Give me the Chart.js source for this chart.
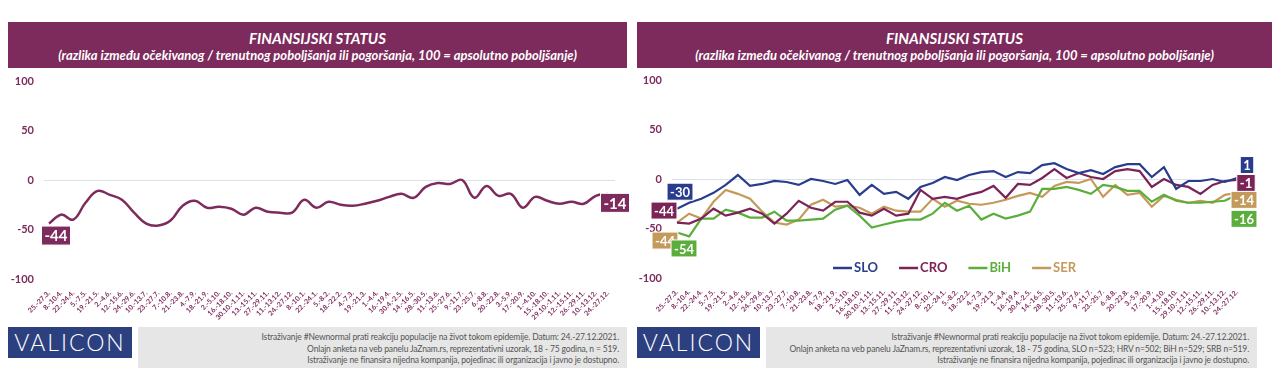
<!DOCTYPE html>
<html lang="sr">
<head>
<meta charset="UTF-8">
<title>Finansijski status</title>
<script src="https://cdn.jsdelivr.net/npm/chart.js"></script>
<style>
    body, html {
        margin: 0;
        padding: 0;
        width: 1280px;
        height: 377px;
        overflow: hidden;
        background: #fff;
        font-family: Lato, 'Open Sans', sans-serif;
    }
    .header {
        position: absolute;
        top: 22px;
        height: 46px;
        background: #7d2a5c;
        color: #fff;
        text-align: center;
        font-style: italic;
        font-weight: bold;
    }
    .header .t { font-size: 15px; margin-top: 7px; line-height: 18px; }
    .header .s { font-size: 13px; line-height: 16px; }
    .chartbox { position: absolute; top: 70px; height: 252px; }
    .logo {
        position: absolute;
        top: 327px;
        height: 31px;
        background: #2c3f7e;
        color: #fff;
        font-size: 23px;
        font-weight: 300;
        letter-spacing: 2px;
        text-align: center;
        line-height: 31px;
    }
    .note {
        position: absolute;
        top: 327px;
        height: 41px;
        background: #e6e6e6;
        color: #555;
        font-size: 8.5px;
        line-height: 11.5px;
        letter-spacing: -0.15px;
        white-space: nowrap;
        text-align: right;
        padding: 5px 8px 0 0;
        box-sizing: border-box;
    }
</style>
</head>
<body>
    <div class="header" style="left:8px; width:619px;">
        <div class="t">FINANSIJSKI STATUS</div>
        <div class="s">(razlika između očekivanog / trenutnog poboljšanja ili pogoršanja, 100 = apsolutno poboljšanje)</div>
    </div>
    <div class="header" style="left:637px; width:635px;">
        <div class="t">FINANSIJSKI STATUS</div>
        <div class="s">(razlika između očekivanog / trenutnog poboljšanja ili pogoršanja, 100 = apsolutno poboljšanje)</div>
    </div>

    <div class="chartbox" style="left:0; width:632px;"><canvas id="left"></canvas></div>
    <div class="chartbox" style="left:632px; width:648px;"><canvas id="right"></canvas></div>

    <div class="logo" style="left:8px; width:124px;">VALICON</div>
    <div class="note" style="left:138px; width:489px;">
        Istraživanje #Newnormal prati reakciju populacije na život tokom epidemije. Datum: 24.-27.12.2021.<br>
        Onlajn anketa na veb panelu JaZnam.rs, reprezentativni uzorak, 18 - 75 godina, n = 519.<br>
        Istraživanje ne finansira nijedna kompanija, pojedinac ili organizacija i javno je dostupno.
    </div>
    <div class="logo" style="left:637px; width:123px;">VALICON</div>
    <div class="note" style="left:766px; width:491px;">
        Istraživanje #Newnormal prati reakciju populacije na život tokom epidemije. Datum: 24.-27.12.2021.<br>
        Onlajn anketa na veb panelu JaZnam.rs, reprezentativni uzorak, 18 - 75 godina, SLO n=523; HRV n=502; BiH n=529; SRB n=519.<br>
        Istraživanje ne finansira nijedna kompanija, pojedinac ili organizacija i javno je dostupno.
    </div>

<script>
// survey waves, 2020-2021
const periods = ['25.-27.3.', '8.-10.4.', '22.-24.4.', '5.-7.5.', '19.-21.5.', '2.-4.6.', '12.-15.6.', '24.-29.6.',
    '10.-13.7.', '23.-27.7.', '7.-10.8.', '21.-23.8.', '4.-7.9.', '18.-21.9.', '2.-5.10.', '16.-18.10.',
    '30.10.-1.11.', '13.-15.11.', '27.-29.11.', '11.-13.12.', '24.-27.12.', '8.-10.1.', '22.-24.1.', '5.-8.2.',
    '18.-22.2.', '4.-7.3.', '19.-21.3.', '1.-4.4.', '16.-19.4.', '30.4.-2.5.', '14.-16.5.', '28.-30.5.',
    '11.-13.6.', '25.-27.6.', '9.-11.7.', '23.-25.7.', '6.-8.8.', '20.-22.8.', '3.-5.9.', '17.-20.9.',
    '1.-4.10.', '15.-18.10.', '29.10.-1.11.', '12.-15.11.', '26.-29.11.', '10.-13.12.', '24.-27.12.'];

const srb = [-44, -35, -40, -23, -11, -15, -20, -33, -44, -46, -41, -26, -21, -28, -27, -29, -35, -28, -32, -33,
    -33, -20, -28, -22, -25, -26, -24, -21, -17, -14, -18, -7, -3, -4, 0, -18, -6, -16, -14, -28,
    -17, -21, -24, -22, -24, -16, -14];
const slo = [-30, -24, -20, -14, -6, 4, -7, -5, -2, -3, -6, 0, -2, -5, -1, -16, -6, -15, -13, -20,
    -8, -4, 2, -1, 4, 7, 8, 2, 7, 6, 14, 16, 10, 6, 9, 5, 12, 15, 15, 2,
    12, -10, -2, -2, 0, -3, 1];
const cro = [-44, -45, -40, -30, -37, -34, -30, -35, -45, -35, -22, -29, -32, -23, -23, -34, -37, -30, -37, -35,
    -11, -20, -18, -20, -16, -13, -7, -19, -5, -6, 1, 10, 1, 6, 2, 0, 8, 10, 8, -8,
    0, -6, -8, -15, -6, -2, -1];
const bih = [-54, -58, -40, -40, -31, -34, -39, -39, -33, -42, -42, -41, -40, -31, -27, -37, -49, -46, -43, -41,
    -41, -35, -24, -32, -27, -41, -35, -40, -37, -33, -10, -10, -8, -11, -15, -6, -8, -12, -12, -23,
    -16, -22, -24, -24, -23, -22, -16];

const yTicks = [-100, -50, 0, 50, 100];

const MAROON = '#7d2a5c';
const colors = { SLO: '#2a3c8c', CRO: '#7b2257', BiH: '#5cae3c', SER: '#c49a5a' };

// value boxes at line ends: dataset, point, text, offset of box centre from the point
const leftTags = [
    { ds: 0, i: 0, text: '-44', dx: 7, dy: 12, size: 15 },
    { ds: 0, i: 46, text: '-14', dx: 7, dy: 9, size: 15 }
];
const rightTags = [
    { ds: 0, i: 0, text: '-30', dx: 3, dy: -17, size: 13 },
    { ds: 1, i: 0, text: '-44', dx: -13, dy: -12, size: 13 },
    { ds: 3, i: 0, text: '-44', dx: -12, dy: 18, size: 13 },
    { ds: 2, i: 0, text: '-54', dx: 7, dy: 16, size: 13 },
    { ds: 0, i: 46, text: '1', dx: 10, dy: -13, size: 13 },
    { ds: 1, i: 46, text: '-1', dx: 9, dy: 3, size: 13 },
    { ds: 3, i: 46, text: '-14', dx: 7, dy: 7, size: 13 },
    { ds: 2, i: 46, text: '-16', dx: 7, dy: 24, size: 13 }
];

// zero line, slightly wider than the plot
const zeroLine = {
    id: 'zeroLine',
    beforeDatasetsDraw(chart) {
        const { ctx, chartArea, scales } = chart;
        const y = Math.round(scales.y.getPixelForValue(0)) + 0.5;
        ctx.save();
        ctx.strokeStyle = '#d6e1ea';
        ctx.lineWidth = 1;
        ctx.beginPath();
        ctx.moveTo(chartArea.left - 5, y);
        ctx.lineTo(chartArea.right + 7, y);
        ctx.stroke();
        ctx.restore();
    }
};

const endTags = {
    id: 'endTags',
    afterDatasetsDraw(chart, args, opts) {
        const ctx = chart.ctx;
        ctx.save();
        opts.tags.forEach(t => {
            const ds = chart.data.datasets[t.ds];
            const pt = chart.getDatasetMeta(t.ds).data[t.i];
            ctx.font = 'bold ' + t.size + 'px Lato, sans-serif';
            const w = ctx.measureText(t.text).width + 6;
            const h = t.size + 4;
            const cx = pt.x + t.dx, cy = pt.y + t.dy;
            ctx.fillStyle = ds.borderColor;
            ctx.fillRect(cx - w / 2, cy - h / 2, w, h);
            ctx.strokeStyle = '#ffffff';
            ctx.lineWidth = 1;
            ctx.strokeRect(cx - w / 2, cy - h / 2, w, h);
            ctx.fillStyle = '#fff';
            ctx.textAlign = 'center';
            ctx.textBaseline = 'middle';
            ctx.fillText(t.text, cx, cy + 1);
        });
        ctx.restore();
    }
};

const legendInside = {
    id: 'legendInside',
    afterDraw(chart) {
        if (!chart.options.plugins.legendInside) return;
        const ctx = chart.ctx;
        const y = chart.chartArea.bottom - 10;
        let x = chart.chartArea.left + 156;
        ctx.save();
        ctx.font = 'bold 13px Lato, sans-serif';
        ctx.textBaseline = 'middle';
        chart.data.datasets.forEach(ds => {
            ctx.strokeStyle = ds.borderColor;
            ctx.lineWidth = 2.5;
            ctx.beginPath();
            ctx.moveTo(x, y);
            ctx.lineTo(x + 19, y);
            ctx.stroke();
            ctx.fillStyle = ds.borderColor;
            ctx.fillText(ds.label, x + 21, y);
            x += 21 + ctx.measureText(ds.label).width + 21;
        });
        ctx.restore();
    }
};

function makeOptions(yWidth, xHeight, padding, tags, legend) {
    return {
        responsive: true,
        maintainAspectRatio: false,
        animation: false,
        layout: { padding: padding },
        elements: { point: { radius: 0 } },
        plugins: {
            legend: { display: false },
            tooltip: { enabled: false },
            endTags: { tags: tags },
            legendInside: legend
        },
        scales: {
            x: {
                grid: { display: false },
                border: { display: false },
                afterFit: s => { s.height = xHeight; },
                ticks: {
                    autoSkip: false,
                    maxRotation: 45,
                    minRotation: 45,
                    padding: 2,
                    color: MAROON,
                    font: { size: 7, weight: 'bold', family: 'Lato, sans-serif' }
                }
            },
            y: {
                min: -100,
                max: 100,
                grid: { display: false, drawTicks: false },
                border: { display: false },
                afterFit: s => {
                    s.width = yWidth;
                    s.paddingTop = 7;
                    s.paddingBottom = 7;
                },
                afterBuildTicks: s => { s.ticks = yTicks.map(v => ({ value: v })); },
                ticks: {
                    padding: 15,
                    color: MAROON,
                    font: { size: 11, weight: 'bold', family: 'Lato, sans-serif' }
                }
            }
        }
    };
}

new Chart(document.getElementById('left'), {
    type: 'line',
    data: {
        labels: periods,
        datasets: [{
            label: 'SER',
            data: srb,
            borderColor: MAROON,
            borderWidth: 2.5,
            tension: 0.4,
            fill: false
        }]
    },
    options: makeOptions(49, 43, { left: 0, right: 24, top: 11, bottom: 0 }, leftTags, false),
    plugins: [zeroLine, endTags, legendInside]
});

new Chart(document.getElementById('right'), {
    type: 'line',
    data: {
        labels: periods,
        datasets: [
            { label: 'SLO', data: slo, borderColor: colors.SLO, borderWidth: 2.2, tension: 0, fill: false },
            { label: 'CRO', data: cro, borderColor: colors.CRO, borderWidth: 2.2, tension: 0, fill: false },
            { label: 'BiH', data: bih, borderColor: colors.BiH, borderWidth: 2.2, tension: 0, fill: false },
            { label: 'SER', data: srb, borderColor: colors.SER, borderWidth: 2.2, tension: 0, fill: false }
        ]
    },
    options: makeOptions(45, 44, { left: 0, right: 43, top: 10, bottom: 0 }, rightTags, true),
    plugins: [zeroLine, endTags, legendInside]
});
</script>
</body>
</html>
